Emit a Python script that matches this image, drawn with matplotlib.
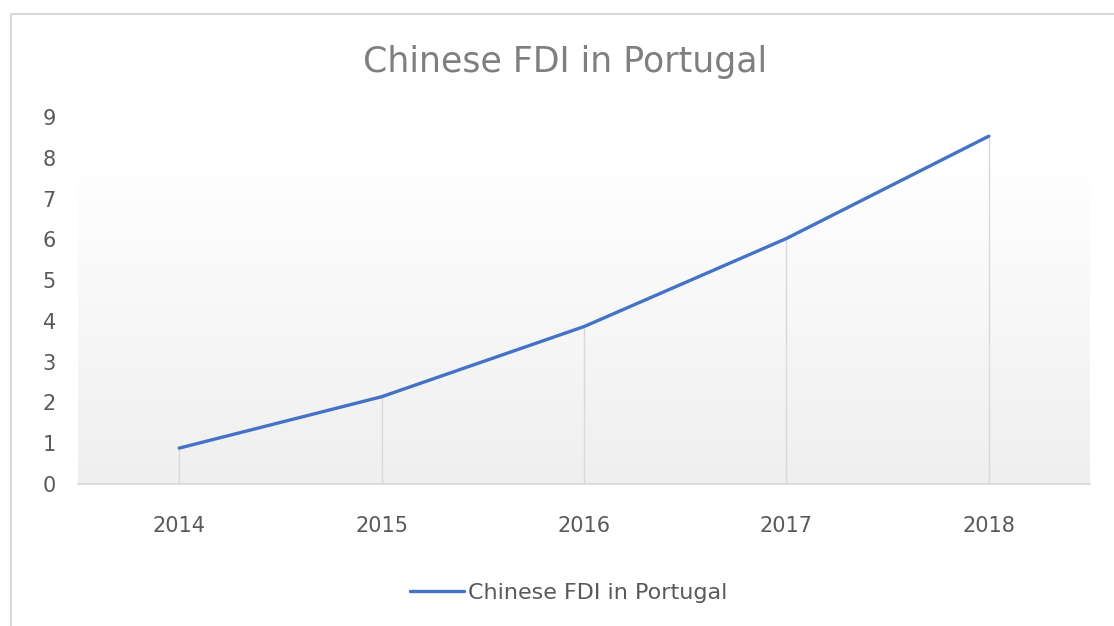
import numpy as np
import matplotlib
matplotlib.use("Agg")
import matplotlib.pyplot as plt
from matplotlib.patches import Rectangle

# data
years = ["2014", "2015", "2016", "2017", "2018"]
fdi = [0.88, 2.14, 3.86, 6.02, 8.53]
yticks = list(range(0, 10))

plt.rcParams['font.family'] = ['DejaVu Sans']
grey_txt = "#595959"
grey_line = "#d9d9d9"
blue = "#4472C4"

fig = plt.figure(figsize=(11.14, 6.26), dpi=100)
ax = fig.add_axes([78 / 1114, 1 - 484 / 626, (1090 - 78) / 1114, (484 - 117) / 626])

# outer chart border (only top and left visible in the crop)
fig.patches.append(Rectangle((11 / 1114, -0.1), 1.2, 1 - 14 / 626 + 0.1,
                             transform=fig.transFigure, fill=False,
                             edgecolor=grey_line, lw=1.5))

# plot area gradient: light grey at bottom to white at top
grad = np.linspace(0.0, 1.0, 256).reshape(-1, 1)
cmap = matplotlib.colors.LinearSegmentedColormap.from_list("g", ["#efefef", "#ffffff"])
ax.imshow(grad, aspect="auto", cmap=cmap, origin="lower",
          extent=[0, 1, 0, (484 - 160) / (484 - 117)],
          transform=ax.transAxes, zorder=0)

x = np.arange(len(years))
ax.vlines(x, 0, fdi, color=grey_line, lw=1, zorder=1)
ax.plot(x, fdi, color=blue, lw=2.4, solid_capstyle="round", zorder=3,
        label="Chinese FDI in Portugal")

ax.set_xlim(-0.5, len(years) - 0.5)
ax.set_ylim(0, 9)
ax.set_xticks(x)
ax.set_xticklabels(years)
ax.set_yticks(yticks)
for s in ["top", "right", "left"]:
    ax.spines[s].set_visible(False)
ax.spines["bottom"].set_color(grey_line)
ax.spines["bottom"].set_linewidth(1.2)
ax.tick_params(axis="both", length=0, labelsize=15, colors=grey_txt)
ax.tick_params(axis="y", pad=16)
ax.tick_params(axis="x", pad=23)
ax.set_facecolor("none")

fig.text(565 / 1114, 1 - 62 / 626, "Chinese FDI in Portugal", ha="center", va="center",
         fontsize=25, color="#7f7f7f")

leg = fig.legend(loc="center", bbox_to_anchor=(569 / 1114, 1 - 593 / 626), frameon=False,
                 fontsize=16, handlelength=2.4, handletextpad=0.2)
for t in leg.get_texts():
    t.set_color(grey_txt)

fig.savefig("out.png", dpi=100)
